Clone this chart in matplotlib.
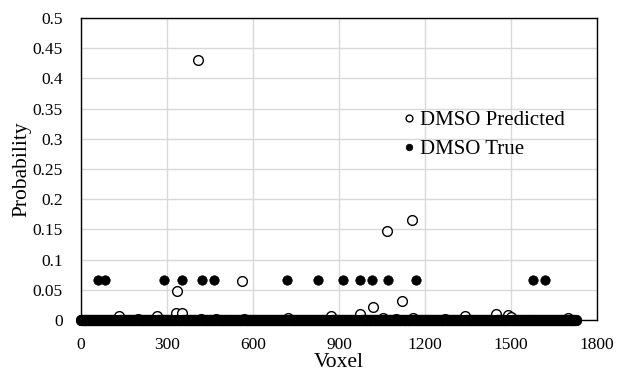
import numpy as np
import matplotlib
matplotlib.use("Agg")
import matplotlib.pyplot as plt

plt.rcParams['font.family'] = ['Liberation Serif', 'DejaVu Serif']

# Data
n_voxels = 1727  # voxels 0..1726, value 0 unless listed below
true_nonzero_x = [60, 84, 290, 352, 422, 464, 718, 827, 914, 973, 1015, 1071, 1168, 1577, 1618]
true_nonzero_y = [0.0667] * len(true_nonzero_x)
pred_nonzero_x = [133, 200, 265, 331, 335, 352, 408, 420, 470, 560, 570, 722, 872, 973, 1018,
                  1053, 1067, 1100, 1120, 1155, 1158, 1270, 1340, 1447, 1489, 1500, 1699]
pred_nonzero_y = [0.006, 0.002, 0.006, 0.012, 0.048, 0.012, 0.43, 0.002, 0.002, 0.065, 0.002,
                  0.003, 0.006, 0.010, 0.021, 0.003, 0.147, 0.002, 0.031, 0.166, 0.003, 0.002,
                  0.006, 0.010, 0.008, 0.005, 0.003]
x_ticks = [0, 300, 600, 900, 1200, 1500, 1800]
y_ticks = [0, 0.05, 0.1, 0.15, 0.2, 0.25, 0.3, 0.35, 0.4, 0.45, 0.5]
y_tick_labels = ['0', '0.05', '0.1', '0.15', '0.2', '0.25', '0.3', '0.35', '0.4', '0.45', '0.5']

voxels = np.arange(n_voxels)
true_vals = np.zeros(n_voxels)
true_vals[true_nonzero_x] = true_nonzero_y
pred_vals = np.zeros(n_voxels)
pred_vals[pred_nonzero_x] = pred_nonzero_y

fig = plt.figure(figsize=(6.17, 3.72), dpi=100)
ax = fig.add_axes([81/617, 1 - 320/372, (597 - 81)/617, (320 - 18)/372])

ax.plot(voxels, pred_vals, linestyle='none', marker='o', markersize=7,
        markerfacecolor='white', markeredgecolor='black', markeredgewidth=1.0,
        label='DMSO Predicted', zorder=3, clip_on=False)
ax.plot(voxels, true_vals, linestyle='none', marker='o', markersize=6.8,
        markerfacecolor='black', markeredgecolor='black', markeredgewidth=0.5,
        label='DMSO True', zorder=4, clip_on=False)

ax.set_xlim(0, 1800)
ax.set_ylim(0, 0.5)
ax.set_xticks(x_ticks)
ax.set_xticklabels([str(v) for v in x_ticks])
ax.set_yticks(y_ticks)
ax.set_yticklabels(y_tick_labels)
ax.tick_params(axis='both', length=0, labelsize=12.5)
ax.tick_params(axis='x', pad=12)
ax.tick_params(axis='y', pad=13)
ax.grid(True, color='#d9d9d9', linewidth=1.0, zorder=0)
ax.set_axisbelow(True)
for s in ax.spines.values():
    s.set_color('black')
    s.set_linewidth(1.0)

ax.set_xlabel('Voxel', fontsize=15.5, labelpad=0)
ax.set_ylabel('Probability', fontsize=15.5, labelpad=1)

leg = ax.legend(loc='upper left', bbox_to_anchor=(0.6, 0.72), frameon=False,
                fontsize=15, handletextpad=0.0, handlelength=1.0,
                labelspacing=0.45, borderaxespad=0, markerscale=0.7)

fig.savefig('out.png', dpi=100)
